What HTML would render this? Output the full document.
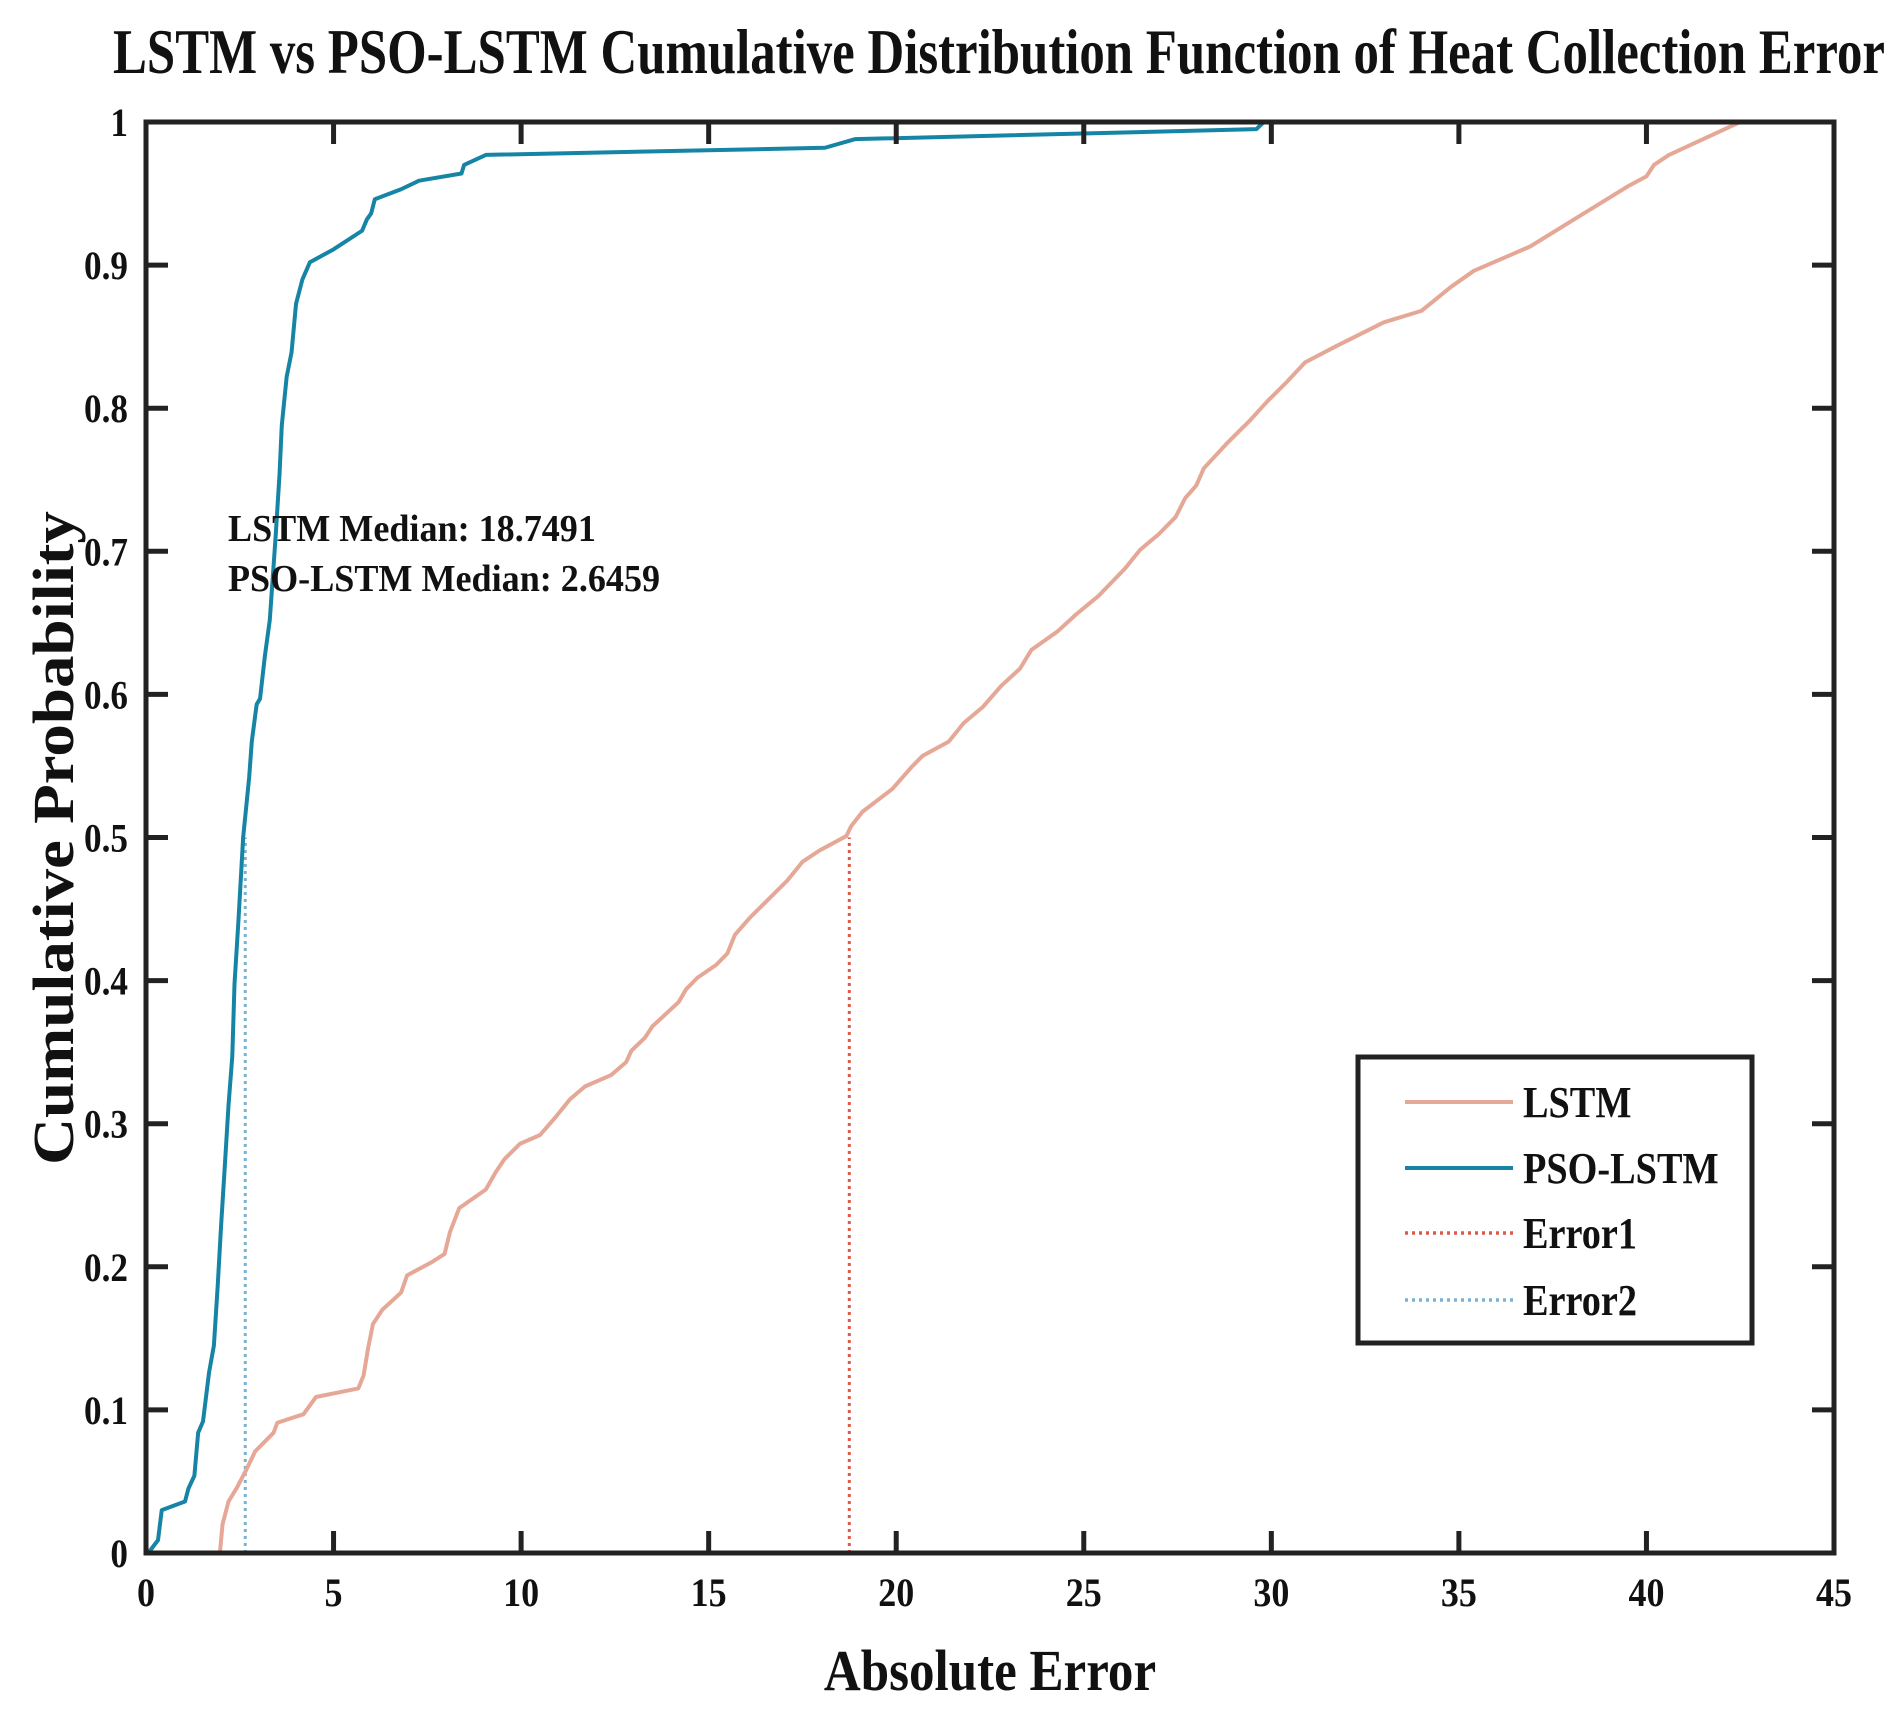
<!DOCTYPE html>
<html><head><meta charset="utf-8"><style>
html,body{margin:0;padding:0;background:#fff}
svg text{font-family:"Liberation Serif",serif;font-weight:bold;fill:#111}
</style></head><body>
<svg id="chart" width="1904" height="1714" xmlns="http://www.w3.org/2000/svg">
<text x="113" y="73" font-size="64" textLength="1772" lengthAdjust="spacingAndGlyphs">LSTM vs PSO-LSTM Cumulative Distribution Function of Heat Collection Error</text>
<g id="plot"></g>
</svg>
<script>
const xTicks=[0,5,10,15,20,25,30,35,40,45];
const yTicks=[0,0.1,0.2,0.3,0.4,0.5,0.6,0.7,0.8,0.9,1];
const yTickLabels=['0','0.1','0.2','0.3','0.4','0.5','0.6','0.7','0.8','0.9','1'];
const psoX=[0.06,0.32,0.42,1.04,1.13,1.29,1.39,1.52,1.68,1.81,1.91,2.0,2.1,2.2,2.3,2.36,2.46,2.59,2.75,2.82,2.95,3.04,3.17,3.3,3.46,3.56,3.62,3.75,3.88,4.0,4.17,4.37,5.0,5.76,5.89,6.0,6.1,6.8,7.28,8.41,8.48,9.06,18.1,18.9,29.6,29.8];
const psoP=[0,0.009,0.03,0.036,0.045,0.054,0.084,0.092,0.126,0.145,0.186,0.228,0.27,0.313,0.347,0.398,0.44,0.5,0.542,0.567,0.593,0.597,0.627,0.652,0.712,0.754,0.788,0.822,0.839,0.873,0.89,0.902,0.911,0.924,0.932,0.936,0.946,0.953,0.959,0.964,0.97,0.977,0.982,0.988,0.995,1.0];
const lstmX=[1.97,2.04,2.2,2.43,2.69,2.91,3.4,3.5,4.2,4.53,5.66,5.8,5.92,6.05,6.3,6.8,6.96,7.6,7.96,8.1,8.35,9.06,9.32,9.55,9.97,10.5,10.9,11.3,11.7,12.4,12.8,12.94,13.3,13.5,14.2,14.4,14.7,15.2,15.5,15.7,16.1,16.6,17.1,17.5,17.96,18.67,18.8,19.1,19.9,20.4,20.7,21.4,21.8,22.3,22.8,23.3,23.6,24.3,24.8,25.4,26.1,26.5,27.0,27.45,27.7,28.0,28.2,28.8,29.45,29.9,30.4,30.9,31.7,33.0,34.0,34.8,35.4,36.9,38.2,39.5,40.0,40.2,40.6,42.5];
const lstmP=[0,0.02,0.036,0.046,0.059,0.071,0.084,0.091,0.097,0.109,0.115,0.124,0.143,0.16,0.17,0.182,0.194,0.203,0.209,0.224,0.241,0.254,0.266,0.275,0.286,0.292,0.304,0.317,0.326,0.334,0.343,0.351,0.36,0.368,0.385,0.394,0.402,0.411,0.419,0.432,0.444,0.457,0.47,0.483,0.491,0.501,0.508,0.518,0.534,0.549,0.557,0.567,0.58,0.591,0.606,0.618,0.631,0.644,0.656,0.669,0.688,0.701,0.712,0.724,0.737,0.746,0.758,0.775,0.792,0.805,0.818,0.832,0.843,0.86,0.868,0.885,0.896,0.913,0.934,0.955,0.962,0.97,0.977,1.0];
const medians=[18.7491,2.6459];

const NS='http://www.w3.org/2000/svg';
const X0=146,X1=1834,Y0=1553,Y1=122;
const sx=v=>X0+(v-0)/45*(X1-X0);
const sy=v=>Y0-(v-0)/1*(Y0-Y1);
const g=document.getElementById('plot');
function mk(tag,attrs,parent){const e=document.createElementNS(NS,tag);for(const k in attrs)e.setAttribute(k,attrs[k]);(parent||g).appendChild(e);return e;}
function txt(s,x,y,size,anchor,sc,parent){const t=mk('text',{transform:`translate(${x},${y}) scale(${sc},1)`,'font-size':size,'text-anchor':anchor||'start'},parent);t.textContent=s;return t;}

let m1=mk('line',{x1:sx(medians[0]),x2:sx(medians[0]),y1:sy(0),y2:sy(0.5),stroke:'#dd5a48','stroke-width':3,'stroke-dasharray':'3,4'});


let m2=mk('line',{x1:sx(medians[1]),x2:sx(medians[1]),y1:sy(0),y2:sy(0.5),stroke:'#77b4d2','stroke-width':3,'stroke-dasharray':'3,4'});



let l1=mk('polyline',{points:lstmX.map((x,i)=>sx(x)+','+sy(lstmP[i])).join(' '),fill:'none',stroke:'#e6a896','stroke-width':4,'stroke-linejoin':'round'});


let l2=mk('polyline',{points:psoX.map((x,i)=>sx(x)+','+sy(psoP[i])).join(' '),fill:'none',stroke:'#1684a5','stroke-width':4,'stroke-linejoin':'round'});



let box=mk('rect',{x:X0,y:Y1,width:X1-X0,height:Y0-Y1,fill:'none',stroke:'#222','stroke-width':5});



xTicks.forEach(v=>{
  const x=sx(v);
  mk('line',{x1:x,x2:x,y1:Y0,y2:Y0-22,stroke:'#222','stroke-width':5});
  mk('line',{x1:x,x2:x,y1:Y1,y2:Y1+22,stroke:'#222','stroke-width':5});
  const t=txt(String(v),x,1606,40,'middle',0.9);
  
  
});
yTicks.forEach((v,i)=>{
  const y=sy(v);
  mk('line',{x1:X0,x2:X0+22,y1:y,y2:y,stroke:'#222','stroke-width':5});
  mk('line',{x1:X1,x2:X1-22,y1:y,y2:y,stroke:'#222','stroke-width':5});
  const t=txt(yTickLabels[i],128,y+14,40,'end',0.88);
  
  
});

let xl=txt('Absolute Error',990,1690,58,'middle',0.88);


let yl=mk('text',{transform:'translate(73,838) rotate(-90) scale(1.12,1)','font-size':58,'text-anchor':'middle'});
yl.textContent='Cumulative Probability';



let a1=txt('LSTM Median: 18.7491',228,541,38,'start',0.95);


let a2=txt('PSO-LSTM Median: 2.6459',228,591,38,'start',0.95);



const lg=mk('g',{});


mk('rect',{x:1358,y:1057,width:394,height:286,fill:'#fff',stroke:'#222','stroke-width':5},lg);
const legNames=['LSTM','PSO-LSTM','Error1','Error2'];
const legCols=['#e6a896','#1684a5','#dd5a48','#77b4d2'];
const legDash=['none','none','3,4','3,4'];
const legY=[1102,1168,1233,1300];
legNames.forEach((n,i)=>{
  const e=mk('g',{},lg);
  
  
  mk('line',{x1:1405,x2:1513,y1:legY[i],y2:legY[i],stroke:legCols[i],'stroke-width':legDash[i]==='none'?4:3.5,'stroke-dasharray':legDash[i]},e);
  txt(n,1523,legY[i]+15,44,'start',0.87,e);
});
</script>
</body></html>
